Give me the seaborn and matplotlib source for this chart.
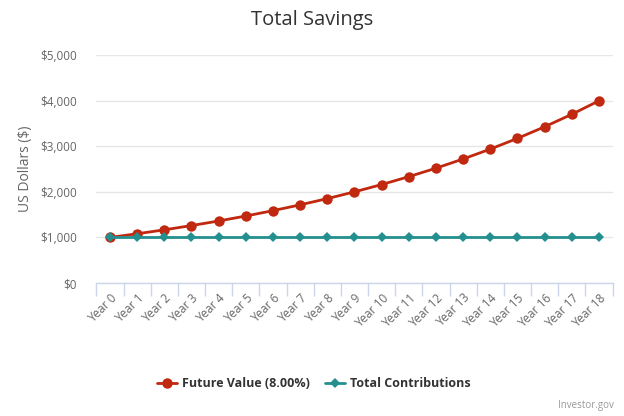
import matplotlib
matplotlib.use("Agg")
import matplotlib.pyplot as plt
import seaborn as sns
import pandas as pd
from matplotlib.ticker import FuncFormatter, FixedLocator

# values
years = ["Year %d" % i for i in range(19)]
future_value = [1000, 1080, 1166, 1260, 1360, 1469, 1587, 1714, 1851, 1999,
                2159, 2332, 2518, 2720, 2937, 3172, 3426, 3700, 3996]
contributions = [1000] * 19

red = "#c0280f"
teal = "#23908f"

sns.set_theme(style="white")
plt.rcParams["font.family"] = ["Open Sans", "DejaVu Sans"]

df = pd.DataFrame({"year": years, "pos": range(19),
                   "fv": future_value, "tc": contributions})

fig = plt.figure(figsize=(6.24, 4.16), dpi=100)
ax = fig.add_axes([0.1545, 0.3197, 0.8272, 0.5481])

sns.lineplot(data=df, x="pos", y="fv", ax=ax, color=red, lw=2, marker="o",
             markersize=7.5, markeredgewidth=0, label="Future Value (8.00%)", zorder=3)
sns.lineplot(data=df, x="pos", y="tc", ax=ax, color=teal, lw=2, marker="D",
             markersize=5, markeredgewidth=0, label="Total Contributions", zorder=4)

ax.set_xlim(-0.5, 18.5)
ax.set_ylim(0, 5000)
ax.set_yticks(range(0, 5001, 1000))
ax.yaxis.set_major_formatter(FuncFormatter(lambda v, p: "${:,.0f}".format(v)))
ax.grid(axis="y", color="#e6e6e6", lw=1)
ax.set_axisbelow(True)

ax.set_xticks(range(19))
ax.set_xticklabels(years, rotation=45, ha="right", rotation_mode="anchor")
ax.xaxis.set_minor_locator(FixedLocator([i - 0.5 for i in range(20)]))
ax.tick_params(axis="x", which="major", length=0, pad=6, labelsize=8.5, labelcolor="#666666")
ax.tick_params(axis="x", which="minor", length=9, width=1, color="#ccd6eb", bottom=True)
ax.tick_params(axis="y", length=0, labelsize=8.5, labelcolor="#666666", pad=14)

for s in ["top", "right", "left"]:
    ax.spines[s].set_visible(False)
ax.spines["bottom"].set_color("#ccd6eb")
ax.spines["bottom"].set_linewidth(1)

ax.set_xlabel("")
ax.set_ylabel("US Dollars ($)", fontsize=10, color="#666666", labelpad=5)

fig.suptitle("Total Savings", y=0.975, fontsize=14.5, color="#333333")

ax.get_legend().remove()
h, l = ax.get_legend_handles_labels()
leg = fig.legend(h, l, loc="center", bbox_to_anchor=(0.503, 0.077), ncol=2,
                 frameon=False, handlelength=1.6, handletextpad=0.4, columnspacing=1.2,
                 prop={"weight": "bold", "size": 9})
for t in leg.get_texts():
    t.set_color("#333333")

fig.text(0.983, 0.012, "Investor.gov", ha="right", va="bottom", fontsize=7, color="#999999")

fig.savefig("out.png", dpi=100)
